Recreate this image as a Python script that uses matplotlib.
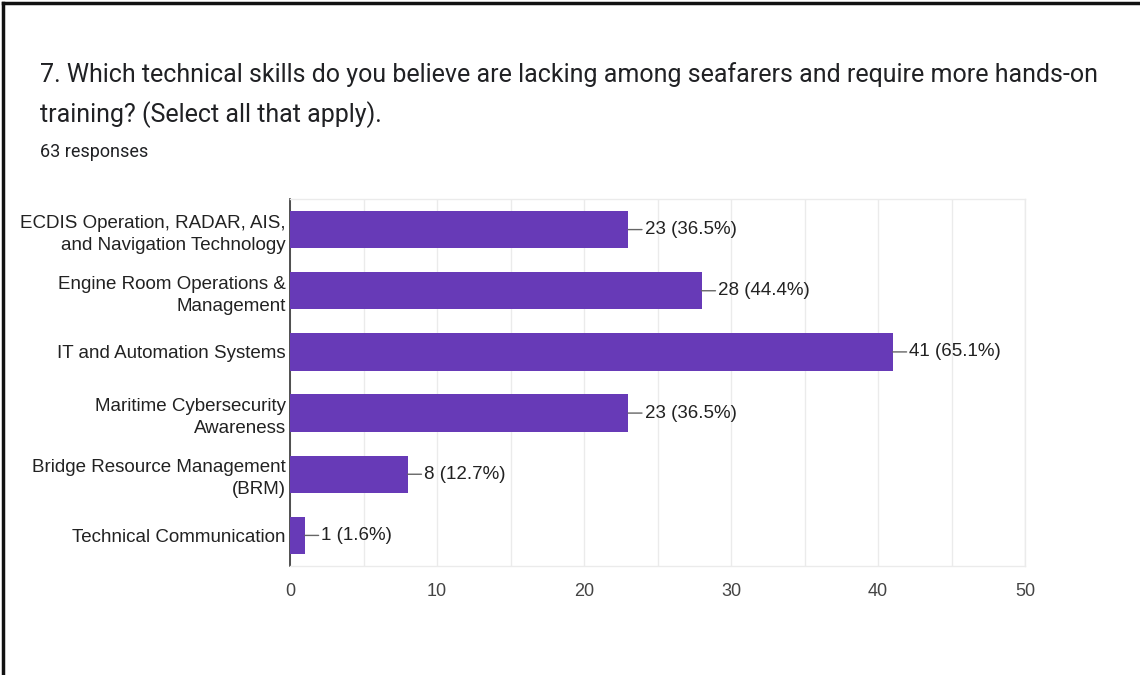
import matplotlib
matplotlib.use("Agg")
import matplotlib.pyplot as plt
from matplotlib.lines import Line2D

CATEGORIES = [
    "ECDIS Operation, RADAR, AIS,\nand Navigation Technology",
    "Engine Room Operations &\nManagement",
    "IT and Automation Systems",
    "Maritime Cybersecurity\nAwareness",
    "Bridge Resource Management\n(BRM)",
    "Technical Communication",
]
COUNTS = [23, 28, 41, 23, 8, 1]
PERCENTS = [36.5, 44.4, 65.1, 36.5, 12.7, 1.6]
X_TICKS = [0, 10, 20, 30, 40, 50]

TITLE_LINES = [
    "7. Which technical skills do you believe are lacking among seafarers and require more hands-on",
    "training? (Select all that apply).",
]
SUBTITLE = "63 responses"

BAR_COLOR = "#673ab7"
LABEL_FONT = ["Liberation Sans", "DejaVu Sans"]
TITLE_FONT = ["Roboto", "DejaVu Sans"]

fig = plt.figure(figsize=(11.4, 6.75), dpi=100)

# black frame lines along the top and left of the screenshot
fig.add_artist(Line2D([0.003, 0.003], [0.0, 0.995], color="#111111", linewidth=2.5,
                      transform=fig.transFigure))
fig.add_artist(Line2D([0.003, 1.0], [0.995, 0.995], color="#111111", linewidth=2.5,
                      transform=fig.transFigure))

fig.text(40 / 1140, 1 - 82 / 675, TITLE_LINES[0], fontsize=18, color="#202124",
         family=TITLE_FONT, va="baseline")
fig.text(40 / 1140, 1 - 122 / 675, TITLE_LINES[1], fontsize=18, color="#202124",
         family=TITLE_FONT, va="baseline")
fig.text(40 / 1140, 1 - 157 / 675, SUBTITLE, fontsize=13, color="#202124",
         family=TITLE_FONT, va="baseline")

ax = fig.add_axes([290 / 1140, 1 - 566 / 675, 735 / 1140, 367 / 675])

positions = list(range(len(CATEGORIES)))
ax.barh(positions, COUNTS, height=0.61, color=BAR_COLOR, zorder=3)

for pos, count, pct in zip(positions, COUNTS, PERCENTS):
    ax.annotate(
        f"{count} ({pct}%)",
        xy=(count, pos),
        xytext=(12, 0),
        textcoords="offset points",
        ha="left",
        va="center",
        fontsize=13.5,
        color="#222222",
        family=LABEL_FONT,
        arrowprops=dict(arrowstyle="-", color="#666666", linewidth=1,
                        shrinkA=0, shrinkB=0),
        zorder=4,
    )

ax.set_xlim(0, 50)
ax.set_ylim(len(CATEGORIES) - 0.5, -0.5)
ax.set_xticks(X_TICKS)
ax.set_xticks(range(5, 50, 10), minor=True)
ax.set_yticks(positions)
ax.set_yticklabels(CATEGORIES, family=LABEL_FONT, fontsize=13.5, color="#222222",
                   linespacing=1.4)
ax.tick_params(axis="y", length=0, pad=3)
ax.tick_params(axis="x", which="both", length=0, pad=12, labelsize=13,
               labelcolor="#444444")
for lbl in ax.get_xticklabels():
    lbl.set_family(LABEL_FONT)

ax.grid(axis="x", which="both", color="#ebebeb", linewidth=1, zorder=0)
ax.set_axisbelow(True)

ax.spines["left"].set_color("#333333")
ax.spines["left"].set_linewidth(1.2)
for side in ("top", "right", "bottom"):
    ax.spines[side].set_color("#ebebeb")
    ax.spines[side].set_linewidth(1)

fig.savefig("out.png", dpi=100)
